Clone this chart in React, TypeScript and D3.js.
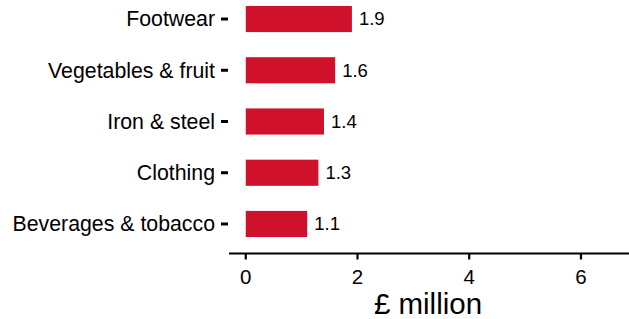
import React from "react";
import * as d3 from "d3";

const categories = ["Footwear", "Vegetables & fruit", "Iron & steel", "Clothing", "Beverages & tobacco"];
const values = [1.9, 1.6, 1.4, 1.3, 1.1];
const valueLabels = ["1.9", "1.6", "1.4", "1.3", "1.1"];
const xTicks = [0, 2, 4, 6];
const xTitle = "£ million";

const W = 629;
const H = 319;
const FONT = "'Liberation Sans', Arial, sans-serif";

export default function App() {
  const x = d3.scaleLinear().domain([-0.3, 6.86]).range([229, 629]);
  const y = d3.scaleBand<string>().domain(categories).range([-6.6, 249.6]).paddingInner(0.49).paddingOuter(0.245);
  const bh = y.bandwidth();
  return (
    <svg width={W} height={H} style={{ position: "absolute", left: 0, top: 0 }}>
      <rect width={W} height={H} fill="#fff" />
      {categories.map((c, i) => {
        const yc = (y(c) ?? 0) + bh / 2;
        return (
          <g key={c}>
            <rect x={x(0)} y={y(c)} width={x(values[i]) - x(0)} height={bh} fill="#d0112b" />
            <text x={x(values[i]) + 7} y={yc} dy="0.35em" fontFamily={FONT} fontSize={18.5} fill="#000">
              {valueLabels[i]}
            </text>
            <line x1={221} x2={228} y1={yc} y2={yc} stroke="#000" strokeWidth={3} />
            <text x={215} y={yc} dy="0.35em" textAnchor="end" fontFamily={FONT} fontSize={21.3} fill="#000">
              {c}
            </text>
          </g>
        );
      })}
      <line x1={229} x2={629} y1={253.5} y2={253.5} stroke="#000" strokeWidth={2.2} />
      {xTicks.map((t) => (
        <g key={t}>
          <line x1={x(t)} x2={x(t)} y1={253} y2={259.5} stroke="#000" strokeWidth={2.2} />
          <text x={x(t)} y={276.5} dy="0.35em" textAnchor="middle" fontFamily={FONT} fontSize={20.5} fill="#000">
            {t}
          </text>
        </g>
      ))}
      <text x={428} y={314} textAnchor="middle" fontFamily={FONT} fontSize={29.5} fill="#000">
        {xTitle}
      </text>
    </svg>
  );
}
